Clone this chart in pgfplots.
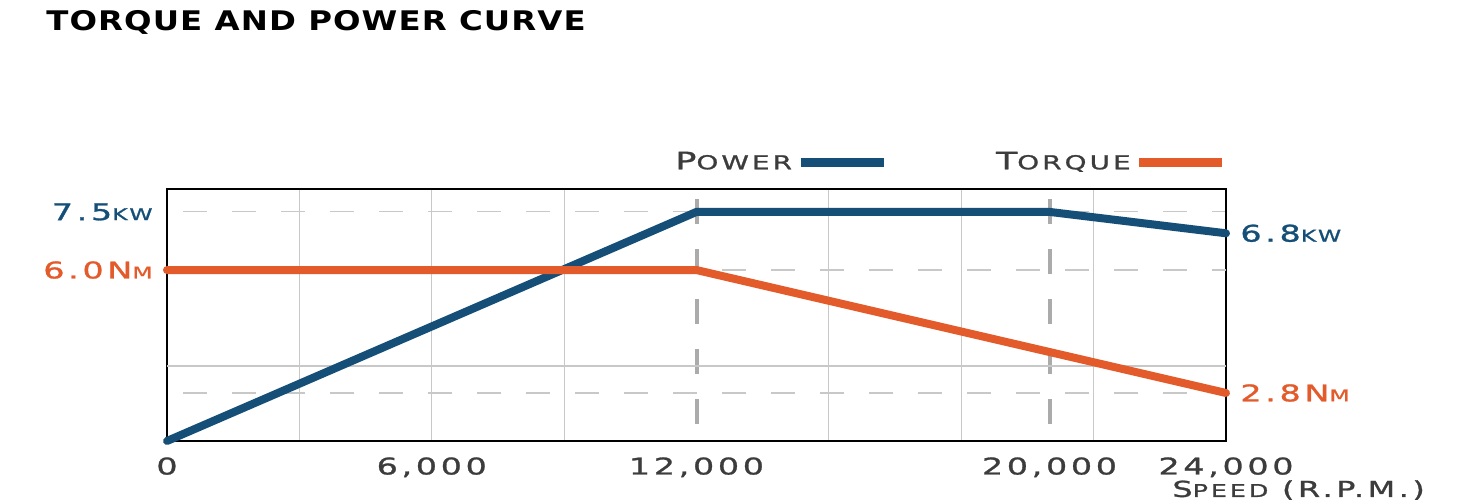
\documentclass[border=0pt]{standalone}
\usepackage{fontspec}
\usepackage{pgfplots}
\pgfplotsset{compat=1.18}
\setmainfont{DejaVu Sans}
\newfontfamily\lbl{DejaVu Sans}[FakeStretch=1.45,LetterSpace=16,FakeBold=1.2]
\newfontfamily\ttl{DejaVu Sans}[FakeStretch=1.2,LetterSpace=4]
\newcommand\sm[1]{{\fontsize{8.1bp}{9bp}\selectfont #1}}
\newcommand\smL[1]{{\fontsize{9.6bp}{11bp}\selectfont #1}}
\newcommand\smX[1]{{\fontsize{8.8bp}{10bp}\selectfont #1}}
\newcommand\lblfont{\lbl\fontsize{11.5bp}{13bp}\selectfont}
\newcommand\legfont{\lbl\fontsize{12bp}{14bp}\selectfont}

\definecolor{pblue}{HTML}{154F78}
\definecolor{torange}{HTML}{E35A2B}
\definecolor{txtgray}{HTML}{3C3C3C}
\definecolor{gridc}{HTML}{C8C8C8}
\definecolor{vdash}{HTML}{ABABAB}

\pgfplotsset{
  base/.style={
    at={(0,0)}, anchor=south west,
    scale only axis, width=529.5bp, height=126bp,
    xmin=0, xmax=24000, clip=false,
    scaled x ticks=false, scaled y ticks=false,
  },
  pwr/.style={base, ymin=0, ymax=8.25},
  trq/.style={base, ymin=1.55, ymax=8.11},
}

% power curve (kW)
\pgfplotstableread{
rpm   kw
0     0
12000 7.5
20000 7.5
24000 6.8
}\powerdata
% torque curve (Nm)
\pgfplotstableread{
rpm   nm
0     6.0
12000 6.0
24000 2.8
}\torquedata

\begin{document}
\begin{tikzpicture}
\useasboundingbox (-83.5bp,-31.5bp) rectangle (650bp,220.5bp);
\node[anchor=base west, inner sep=0pt, font=\ttl\bfseries, text=black]
  at (-60.5bp,205.2bp) {\fontsize{13.5bp}{15bp}\selectfont TORQUE AND POWER CURVE};

% frame, x grid, power grid
\begin{axis}[pwr,
    axis line style={black, line width=1bp},
    major tick length=0pt, minor tick length=0pt,
    xtick={0,6000,12000,20000,24000},
    xticklabels={0,{6,000},{12,000},{20,000},{24,000}},
    xticklabel style={font=\lblfont, text=txtgray,
      anchor=north, inner sep=0pt, yshift=-8bp},
    minor xtick={3000,6000,9000,15000,18000,21000},
    xminorgrids, minor grid style={gridc, line width=0.6bp},
    extra x ticks={12000,20000}, extra x tick labels={\empty,\empty},
    extra x tick style={grid=major,
      major grid style={vdash, line width=2bp, dash pattern=on 12.5bp off 12.5bp}},
    ytick={7.5}, yticklabels={}, ymajorgrids,
    major grid style={gridc, line width=0.6bp, dash pattern=on 12bp off 12.5bp, dash phase=16.5bp},
    xlabel={S\smX{PEED} (R.P.M.)},
    xlabel style={at={(rel axis cs:0.949,-0.222)}, anchor=base west, inner sep=0pt,
      font=\lbl\fontsize{11bp}{13bp}\selectfont, text=txtgray},
  ]
\end{axis}

% torque grid
\begin{axis}[trq, axis line style={draw=none},
    xtick=\empty, ytick={2.8,6.0}, yticklabels={}, major tick length=0pt,
    ymajorgrids,
    major grid style={gridc, line width=0.6bp, dash pattern=on 12bp off 12.5bp, dash phase=16.5bp},
    extra y ticks={3.5}, extra y tick labels={\empty},
    extra y tick style={grid=major, major grid style={solid, gridc, line width=0.6bp}},
  ]
\end{axis}

% power
\begin{axis}[pwr, hide axis]
  \addplot[pblue, line width=4bp, line cap=round, line join=round] table[x=rpm, y=kw] {\powerdata};
  \node[anchor=east, inner sep=0pt, text=pblue, font=\lblfont]
    at (axis cs:0,7.5) [xshift=-7bp] {7.5\sm{KW}};
  \node[anchor=west, inner sep=0pt, text=pblue, font=\lblfont]
    at (axis cs:24000,6.8) [xshift=7bp] {6.8\sm{KW}};
\end{axis}

% torque + legend
\begin{axis}[trq, hide axis,
    legend plot pos=right, legend columns=2,
    legend image code/.code={\draw[line width=4.5bp, line cap=butt] (0bp,0bp) -- (41.5bp,0bp);},
    legend style={at={(rel axis cs:1.001,1.107)}, anchor=east, draw=none, fill=none,
      inner sep=0pt, font=\legfont, text=txtgray,
      /tikz/every even column/.append style={column sep=52bp}},
  ]
  \addlegendimage{pblue}
  \addlegendentry{P\smL{OWER}}
  \addplot[torange, line width=4bp, line cap=round, line join=round] table[x=rpm, y=nm] {\torquedata};
  \addlegendentry{T\smL{ORQUE}}
  \node[anchor=east, inner sep=0pt, text=torange, font=\lblfont]
    at (axis cs:0,6.0) [xshift=-7bp] {6.0N\sm{M}};
  \node[anchor=west, inner sep=0pt, text=torange, font=\lblfont]
    at (axis cs:24000,2.8) [xshift=7bp] {2.8N\sm{M}};
\end{axis}
\end{tikzpicture}
\end{document}
